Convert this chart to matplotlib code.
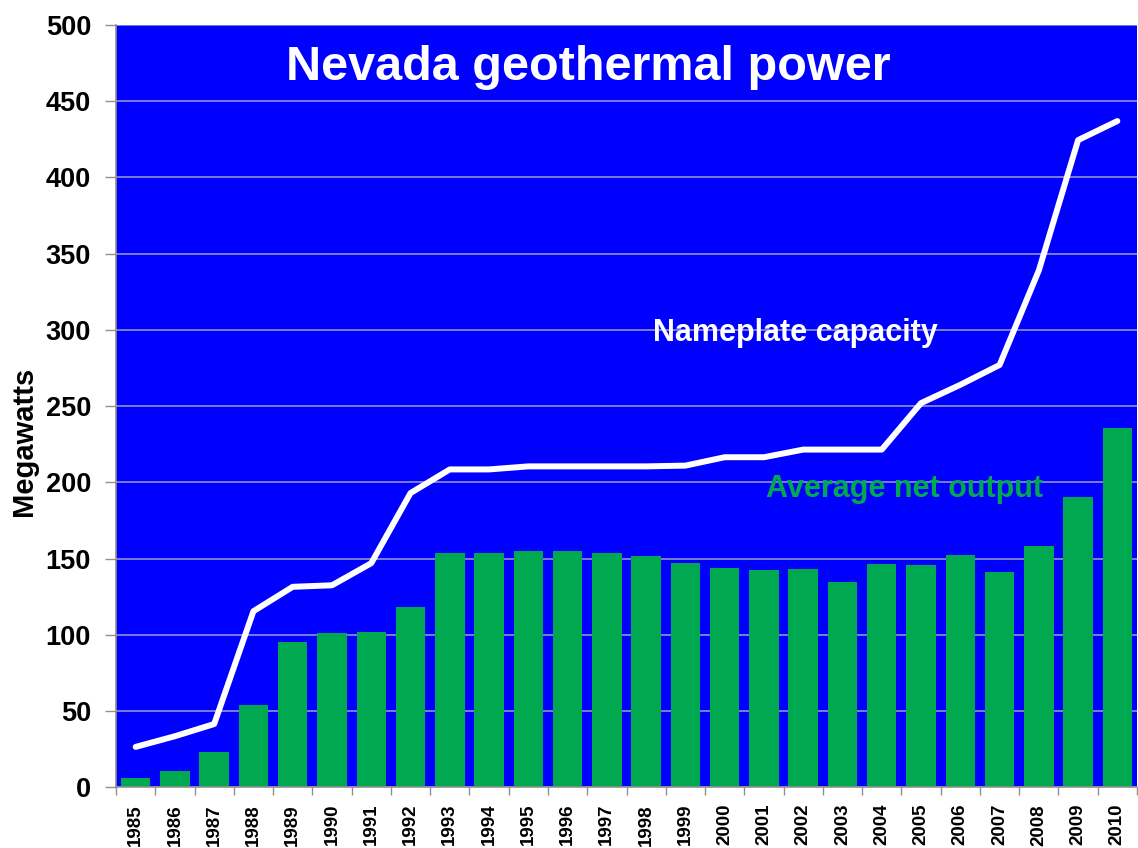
import matplotlib
matplotlib.use("Agg")
import matplotlib.pyplot as plt
import numpy as np

# Nevada geothermal power, 1985-2010 (megawatts)
years = [str(y) for y in range(1985, 2011)]

net_output = [6, 10.5, 23, 54, 95, 101, 102, 118.5, 154, 154, 155, 155, 154,
              152, 147, 144, 142.5, 143, 134.5, 146.5, 145.5, 152.5, 141.5,
              158, 190.5, 235.5]

nameplate = [26.5, 33.5, 41.5, 115.5, 131.5, 132.5, 147, 193, 208.5, 208.5,
             210.5, 210.5, 210.5, 210.5, 211, 216.5, 216.5, 221.5, 221.5,
             221.5, 252, 264, 277, 339, 424.5, 437]

y_ticks = [0, 50, 100, 150, 200, 250, 300, 350, 400, 450, 500]

plt.rcParams["font.family"] = ["Liberation Sans", "DejaVu Sans"]
plt.rcParams["font.weight"] = "bold"

fig = plt.figure(figsize=(11.38, 8.48), dpi=100)
ax = fig.add_axes([116 / 1138, 1 - 787.3 / 848, 1021 / 1138, 762.3 / 848])
ax.set_facecolor("#0000ff")

x = np.arange(len(years))
ax.bar(x, net_output, width=0.75, color="#00a94f", zorder=2)
ax.plot(x, nameplate, color="white", linewidth=4.3, solid_joinstyle="round",
        solid_capstyle="round", zorder=3)

ax.set_xlim(-0.5, len(years) - 0.5)
ax.set_ylim(0, 500)
ax.set_yticks(y_ticks)
ax.set_yticklabels([str(v) for v in y_ticks], fontsize=19.5, fontweight="bold")
ax.yaxis.grid(True, color="#9292d2", linewidth=1.2, zorder=1)
ax.set_axisbelow(True)

# year labels under each bar, tick marks at category boundaries
ax.set_xticks(x)
ax.set_xticklabels(years, rotation=90, fontsize=13.5, fontweight="bold")
ax.tick_params(axis="x", which="major", length=0, pad=12)
ax.set_xticks(np.arange(-0.5, len(years)), minor=True)
ax.tick_params(axis="x", which="minor", length=6, color="#909090", width=1)
ax.tick_params(axis="y", length=8, color="#909090", width=1, pad=10)

for side in ["top", "right"]:
    ax.spines[side].set_visible(False)
for side in ["left", "bottom"]:
    ax.spines[side].set_color("#909090")
    ax.spines[side].set_linewidth(1.2)

fig.text(24 / 1138, 1 - 441 / 848, "Megawatts", rotation=90, fontsize=21,
         fontweight="bold", ha="center", va="center")

fig.text(588 / 1138, 1 - 68 / 848, "Nevada geothermal power", color="white",
         fontsize=35, fontweight="bold", ha="center", va="center")
fig.text(795 / 1138, 1 - 333 / 848, "Nameplate capacity", color="white",
         fontsize=22, fontweight="bold", ha="center", va="center")
fig.text(904 / 1138, 1 - 489 / 848, "Average net output", color="#00a94f",
         fontsize=22, fontweight="bold", ha="center", va="center")

fig.savefig("out.png", dpi=100, facecolor="white")
